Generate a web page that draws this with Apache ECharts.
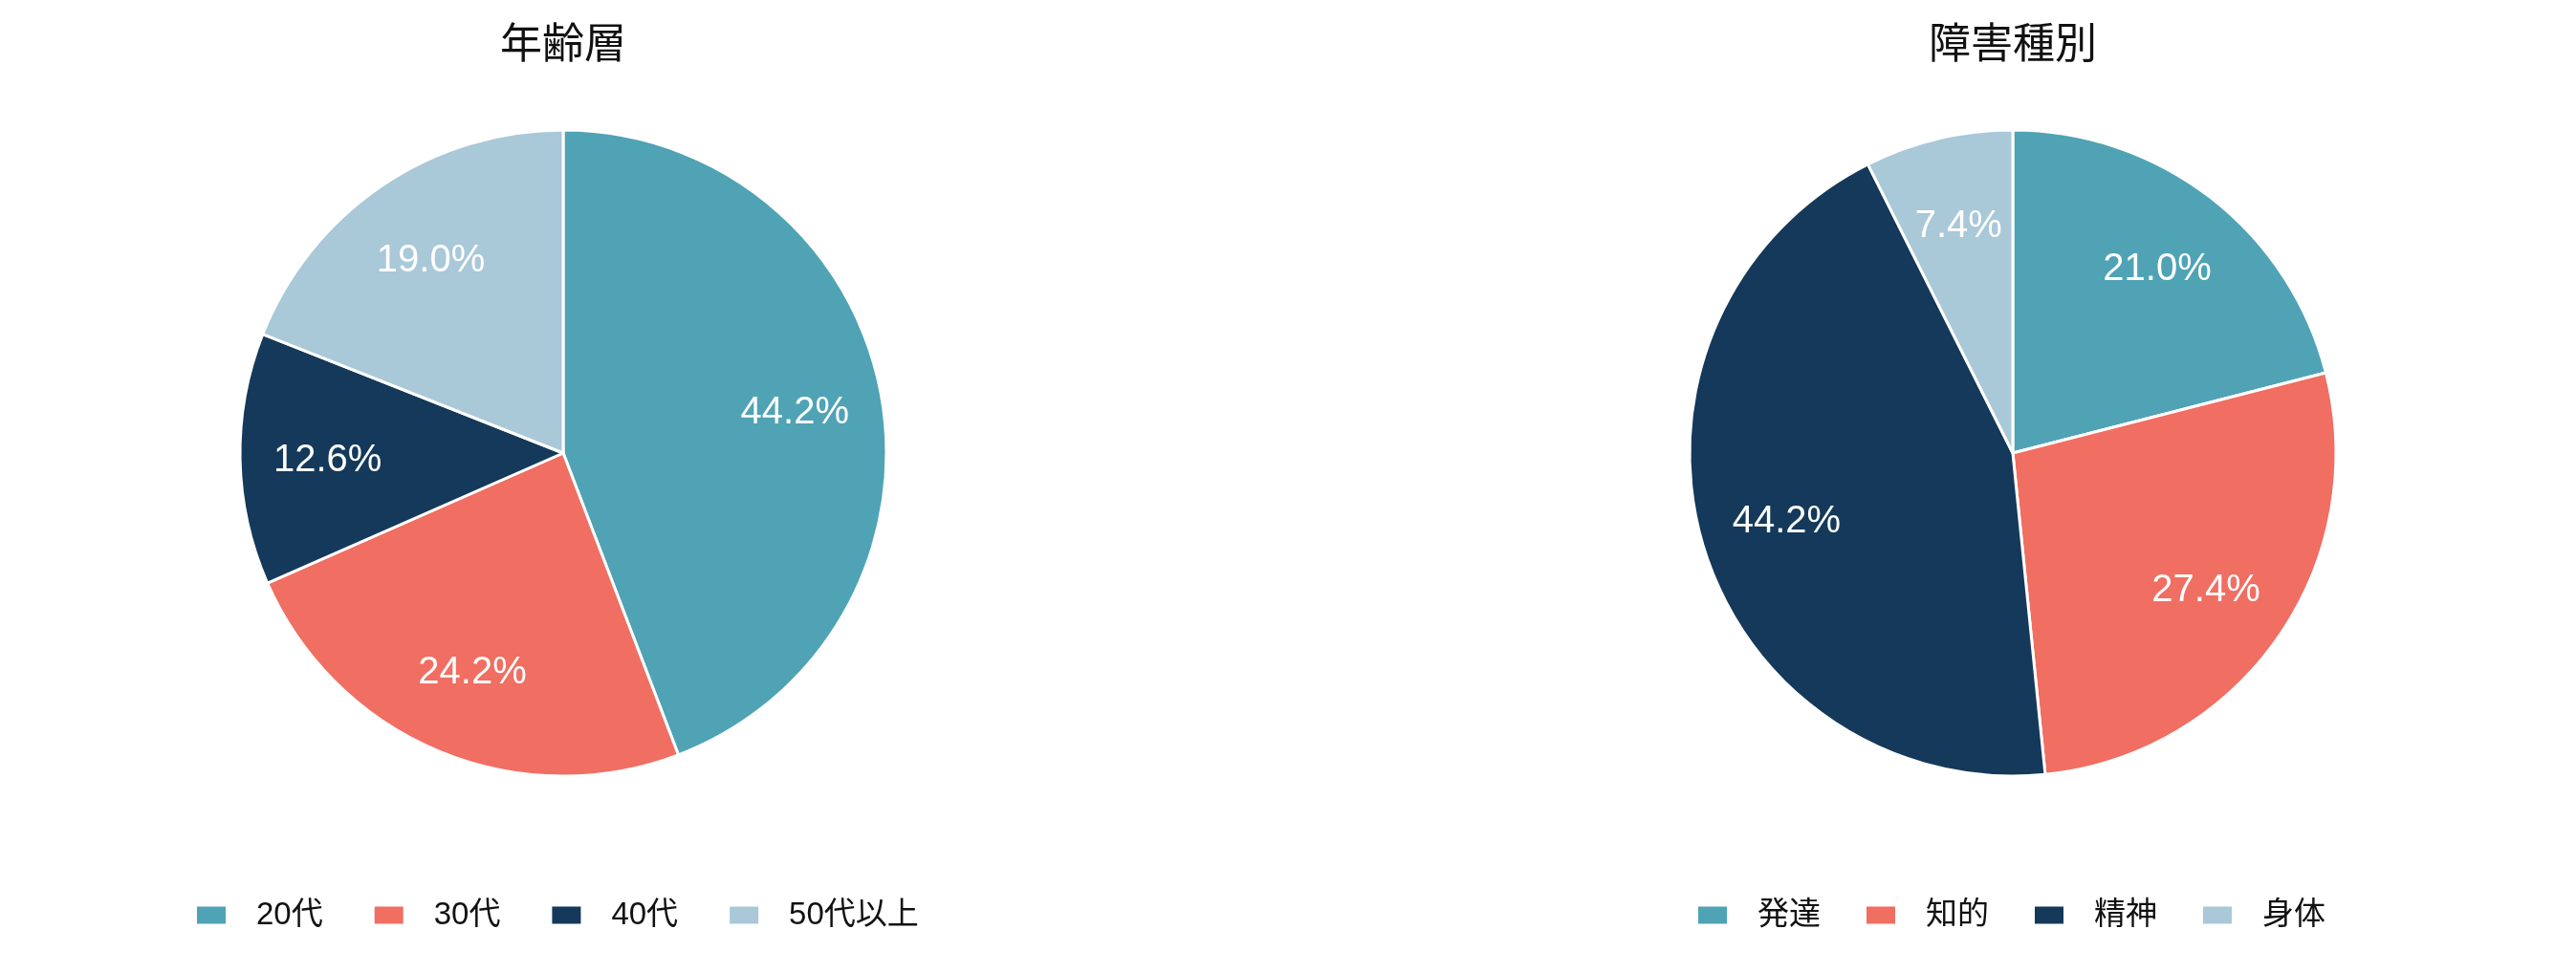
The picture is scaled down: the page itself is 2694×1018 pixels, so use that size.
<!DOCTYPE html>
<html><head><meta charset="utf-8">
<script src="https://cdn.jsdelivr.net/npm/echarts@6/dist/echarts.min.js"></script>
<style>html,body{margin:0;padding:0;background:#fff}#c{width:2694px;height:1018px}</style>
</head><body><div id="c"></div>
<script>
const ageTitle = '年齢層';
const ageCategories = ['20代', '30代', '40代', '50代以上'];
const ageValues = [44.2, 24.2, 12.6, 19.0];
const typeTitle = '障害種別';
const typeCategories = ['発達', '知的', '精神', '身体'];
const typeValues = [21.0, 27.4, 44.2, 7.4];
const colors = ['#4FA3B5', '#F06E62', '#14395A', '#A9C8D8'];

const FONT = "'Liberation Sans', 'Noto Sans CJK JP', sans-serif";
const R = 338;
const centers = [[589, 474], [2105, 474]];

function pieSeries(cats, vals, center) {
  const data = cats.map((n, i) => ({ name: n, value: vals[i] }));
  return [{
    type: 'pie', center: center, radius: [0, R], startAngle: 90, clockwise: true,
    color: colors, data: data,
    itemStyle: { borderColor: '#fff', borderWidth: 3 },
    label: { show: false }, labelLine: { show: false },
    emphasis: { disabled: true }, animation: false
  }, {
    type: 'pie', center: center, radius: [R * 0.44, R], startAngle: 90, clockwise: true,
    data: data, silent: true,
    itemStyle: { color: 'rgba(0,0,0,0)', borderWidth: 0 },
    label: { show: true, position: 'inside', color: '#fff', fontSize: 40, fontFamily: FONT,
      offset: [0, 3], formatter: p => p.value.toFixed(1) + '%' },
    labelLine: { show: false }, emphasis: { disabled: true }, animation: false
  }];
}

const chart = echarts.init(document.getElementById('c'));
const legendCommon = {
  orient: 'horizontal', top: 941, padding: 0, itemWidth: 32, itemHeight: 20,
  icon: 'rect',
  textStyle: { fontSize: 33, color: '#111', fontFamily: FONT, padding: [0, 0, 0, 26] }
};
chart.setOption({
  animation: false,
  color: colors,
  title: [
    { text: ageTitle, left: centers[0][0], top: 27, textAlign: 'center', padding: 0,
      textStyle: { fontSize: 44, fontWeight: 'normal', color: '#111', fontFamily: FONT } },
    { text: typeTitle, left: centers[1][0], top: 27, textAlign: 'center', padding: 0,
      textStyle: { fontSize: 44, fontWeight: 'normal', color: '#111', fontFamily: FONT } }
  ],
  legend: [
    Object.assign({}, legendCommon, { left: 204, itemGap: 52, data: ageCategories }),
    Object.assign({}, legendCommon, { left: 1774, itemGap: 46, data: typeCategories })
  ],
  series: [
    ...pieSeries(ageCategories, ageValues, centers[0]),
    ...pieSeries(typeCategories, typeValues, centers[1])
  ]
});
</script></body></html>
